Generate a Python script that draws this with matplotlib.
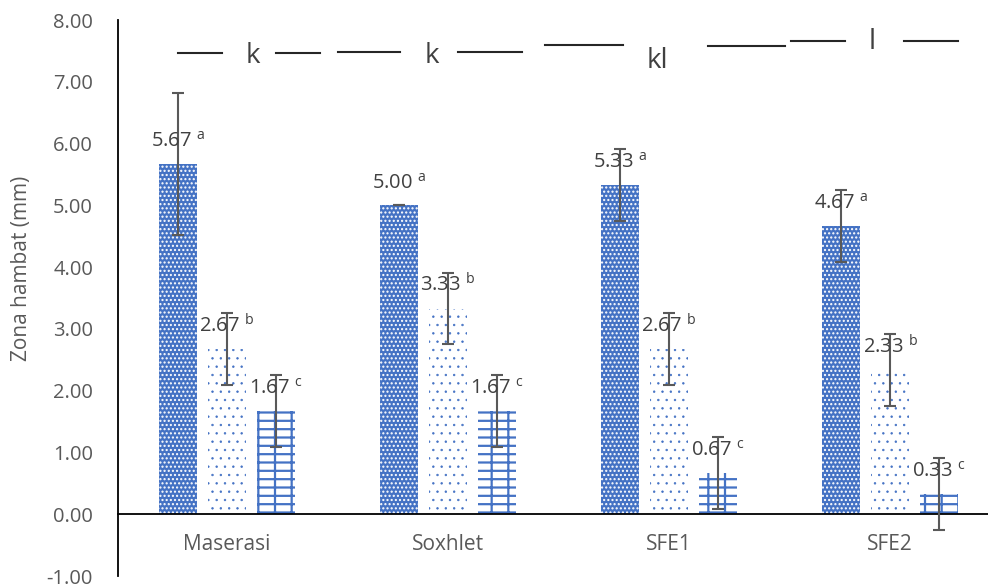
import matplotlib
matplotlib.use('Agg')
import matplotlib.pyplot as plt
import numpy as np

categories = ['Maserasi', 'Soxhlet', 'SFE1', 'SFE2']
mean_a = [5.67, 5.00, 5.33, 4.67]
mean_b = [2.67, 3.33, 2.67, 2.33]
mean_c = [1.67, 1.67, 0.67, 0.33]
sd_a = [1.15, 0.00, 0.58, 0.58]
sd_b = [0.58, 0.58, 0.58, 0.58]
sd_c = [0.58, 0.58, 0.58, 0.58]
notasi_a = ['a', 'a', 'a', 'a']
notasi_b = ['b', 'b', 'b', 'b']
notasi_c = ['c', 'c', 'c', 'c']
notasi_grup = ['k', 'k', 'kl', 'l']
yticks = np.arange(-1, 9, 1)

plt.rcParams['font.family'] = ['Open Sans', 'DejaVu Sans']
plt.rcParams['mathtext.fontset'] = 'custom'
plt.rcParams['mathtext.rm'] = 'Open Sans'
plt.rcParams['mathtext.it'] = 'Open Sans:italic'
plt.rcParams['mathtext.bf'] = 'Open Sans:bold'

blue = '#4472C4'
grey = '#595959'
dark = '#404040'

fig = plt.figure(figsize=(9.88, 5.87), dpi=100)
ax = fig.add_axes([118 / 988, 11 / 587, 870 / 988, 556 / 587])

x = np.arange(len(categories))
off = 0.222
w = 0.172

# pola batang
plt.rcParams['hatch.linewidth'] = 1.0
ax.bar(x - off, mean_a, w, facecolor=blue, edgecolor='white', hatch='....', linewidth=0)
plt.rcParams['hatch.linewidth'] = 0.5
ax.bar(x, mean_b, w, facecolor='white', edgecolor=blue, hatch='..', linewidth=0)
plt.rcParams['hatch.linewidth'] = 1.6
ax.bar(x + off, mean_c, w, facecolor='white', edgecolor=blue, hatch='--|', linewidth=0)

for xs, m, s, lt in [(x - off, mean_a, sd_a, notasi_a),
                     (x, mean_b, sd_b, notasi_b),
                     (x + off, mean_c, sd_c, notasi_c)]:
    ax.errorbar(xs, m, yerr=s, fmt='none', ecolor=grey, elinewidth=1.5,
                capsize=4.5, capthick=1.5, zorder=4)
    for xi, mi, li in zip(xs, m, lt):
        ax.annotate('%.2f $^{\\mathrm{%s}}$' % (mi, li), (xi, mi),
                    xytext=(0, 17), textcoords='offset pixels',
                    ha='center', va='baseline', fontsize=14.5, color=dark, zorder=5)

# notasi huruf di atas grup
garis = [[(-0.222, -0.023, 7.47), (0.222, 0.421, 7.47)],
         [(-0.498, -0.217, 7.48), (0.045, 0.335, 7.48)],
         [(-0.561, -0.208, 7.60)],
         [(-0.824, -0.475, 7.58), (-0.448, -0.204, 7.66), (0.063, 0.308, 7.66)]]
posisi_huruf = [(0.118, 7.30), (-0.072, 7.30), (-0.054, 7.22), (-0.081, 7.53)]
for i, huruf in enumerate(notasi_grup):
    for x0, x1, yy in garis[i]:
        ax.plot([i + x0, i + x1], [yy, yy], color='#262626', lw=1.5)
    dx, yy = posisi_huruf[i]
    ax.text(i + dx, yy, huruf, ha='center', va='baseline', fontsize=20, color=dark)

ax.set_xlim(-0.493, 3.443)
ax.set_ylim(-1, 8)
ax.set_yticks(yticks)
ax.set_yticklabels(['%.2f' % v for v in yticks])
ax.set_xticks(x)
ax.set_xticklabels(categories)
ax.tick_params(axis='both', length=0, labelcolor=grey)
ax.tick_params(axis='y', pad=18, labelsize=14.5)
ax.tick_params(axis='x', pad=14, labelsize=15)

ax.spines['top'].set_visible(False)
ax.spines['right'].set_visible(False)
ax.spines['bottom'].set_position(('data', 0))
ax.spines['left'].set_linewidth(1.3)
ax.spines['bottom'].set_linewidth(1.3)

ax.set_ylabel('Zona hambat (mm)', fontsize=15, color=grey)
ax.yaxis.set_label_coords(-0.099, 0.554)

fig.savefig('out.png', dpi=100)
